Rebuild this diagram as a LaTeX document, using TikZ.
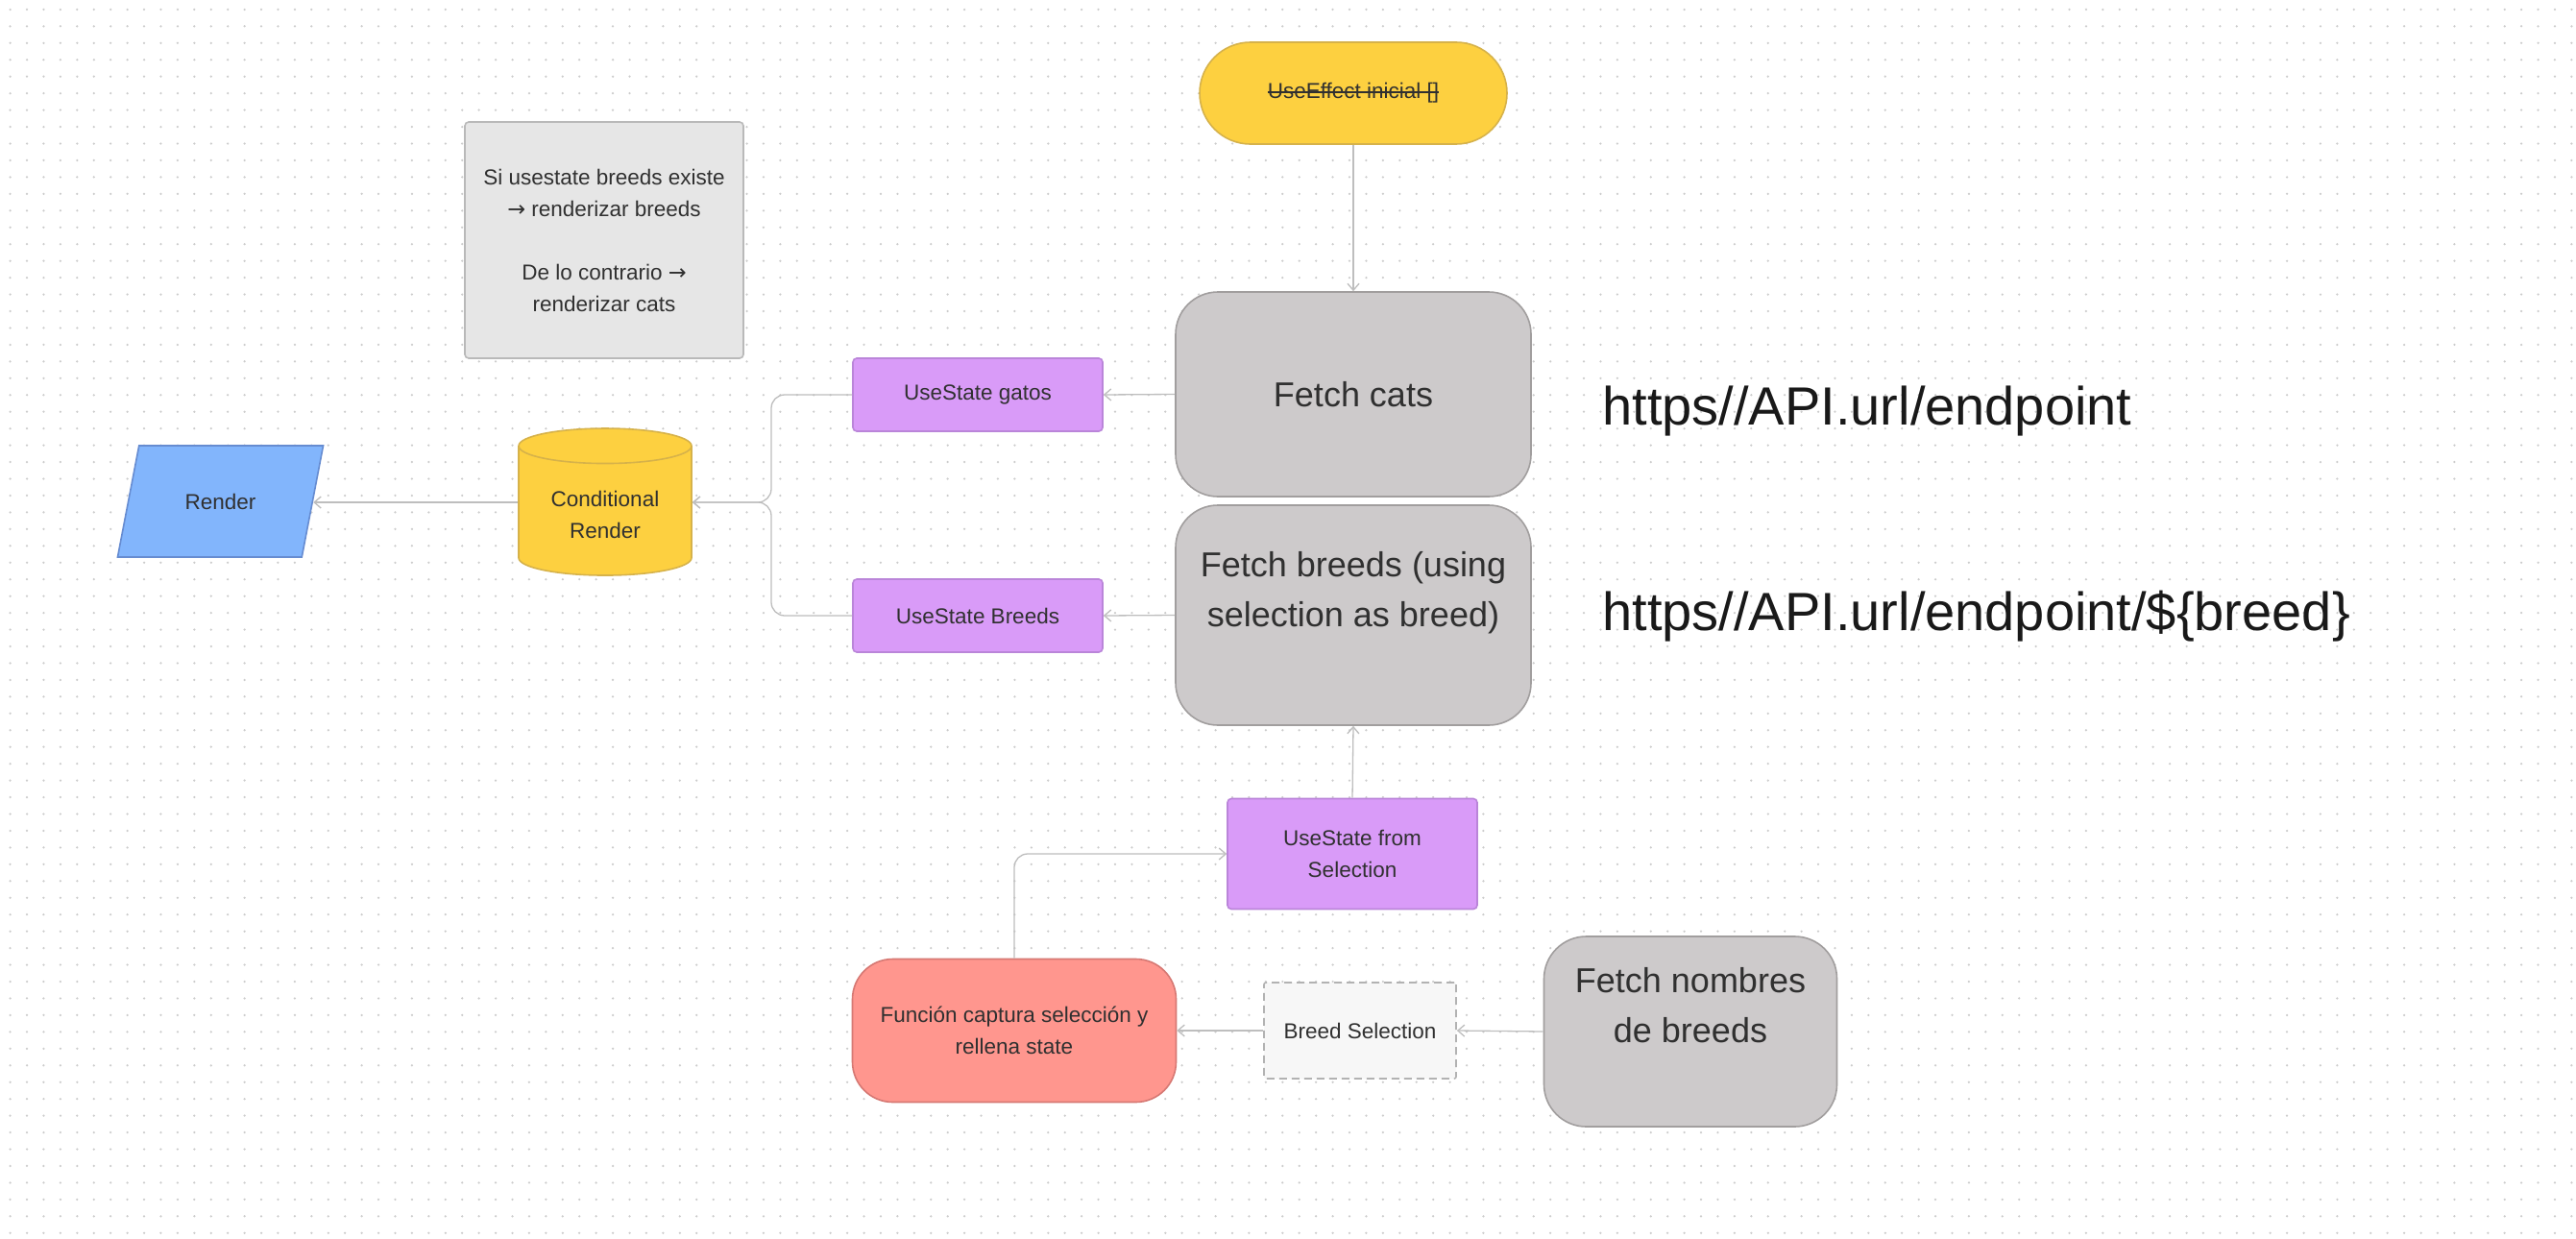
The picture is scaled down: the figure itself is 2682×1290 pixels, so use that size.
\documentclass[tikz,border=0pt]{standalone}
\usepackage{fontspec}
\setmainfont{Liberation Sans}
\newfontfamily\arrowfont{DejaVu Sans}
\usetikzlibrary{shapes.geometric,arrows.meta}
\definecolor{inkgray}{rgb}{0.19,0.19,0.19}
\definecolor{urlblack}{rgb}{0.1,0.1,0.1}
\definecolor{yellowbox}{rgb}{0.992,0.816,0.251}
\definecolor{yellowline}{rgb}{0.84,0.70,0.29}
\definecolor{purplebox}{rgb}{0.851,0.608,0.973}
\definecolor{purpleline}{rgb}{0.73,0.52,0.85}
\definecolor{graybox}{rgb}{0.804,0.792,0.796}
\definecolor{grayline}{rgb}{0.63,0.62,0.62}
\definecolor{bluebox}{rgb}{0.51,0.71,0.988}
\definecolor{blueline}{rgb}{0.4,0.55,0.82}
\definecolor{salmonbox}{rgb}{1,0.588,0.557}
\definecolor{salmonline}{rgb}{0.84,0.47,0.45}
\definecolor{notebox}{rgb}{0.902,0.902,0.902}
\definecolor{noteline}{rgb}{0.725,0.725,0.725}
\definecolor{selbox}{rgb}{0.969,0.969,0.969}
\definecolor{dashline}{rgb}{0.7,0.7,0.7}
\definecolor{linegray}{rgb}{0.745,0.745,0.745}
\definecolor{dotgray}{rgb}{0.8,0.8,0.8}
\newlength\strikelen
\newcommand{\strikethru}[1]{\settowidth{\strikelen}{#1}\rlap{\rule[0.27em]{\strikelen}{0.07em}}#1}
\newcommand{\thenarrow}{{\arrowfont →}}

\begin{document}
\begin{tikzpicture}[x=0.5pt,y=0.5pt,yscale=-1,
    every node/.style={text=inkgray,font=\fontsize{11.25}{16.5}\selectfont,align=center},
    statebox/.style={rectangle,draw=purpleline,fill=purplebox,line width=0.8pt,rounded corners=2pt,minimum width=130pt},
    fetchbox/.style={rectangle,draw=grayline,fill=graybox,line width=0.8pt,rounded corners=22pt,font=\fontsize{18}{26}\selectfont},
    urltext/.style={anchor=west,inner sep=0pt,text=urlblack,font=\fontsize{28}{32}\selectfont},
    flow/.style={draw=linegray,line width=0.65pt,-{Straight Barb[length=3.5pt,width=6pt]}},
    canvasdot/.style={draw=dotgray,line width=1.25pt,line cap=round,dash pattern=on 0pt off 8.715pt}]
			\useasboundingbox (0,0) rectangle (2682,1290);
			\fill[white] (0,0) rectangle (2682,1290);
			\foreach \row in {0,...,73}
				\draw[canvasdot] (10.6,{9.9+17.45*\row}) -- (2682,{9.9+17.45*\row});
			
			\node[rectangle,draw=yellowline,fill=yellowbox,line width=0.8pt,rounded corners=26.5pt,minimum width=160pt,minimum height=53pt] (useeffect) at (1409,97) {\strikethru{UseEffect inicial []}};
			\node[rectangle,draw=noteline,fill=notebox,line width=0.8pt,rounded corners=2pt,minimum width=145pt,minimum height=123pt] (note) at (629,250) {Si usestate breeds existe\\\thenarrow{} renderizar breeds\\[16.5pt]De lo contrario \thenarrow\\renderizar cats};
			\node[fetchbox,minimum width=185pt,minimum height=106.5pt] (fetchcats) at (1409,410.5) {Fetch cats};
			\node[fetchbox,minimum width=185pt,minimum height=114.5pt] (fetchbreeds) at (1409,640.5) {\raisebox{8pt}[0pt][0pt]{\begin{tabular}{@{}c@{}}Fetch breeds (using\\selection as breed)\end{tabular}}};
			\node[fetchbox,minimum width=152.5pt,minimum height=99pt] (fetchnames) at (1760,1074) {\raisebox{8pt}[0pt][0pt]{\begin{tabular}{@{}c@{}}Fetch nombres\\de breeds\end{tabular}}};
			\node[statebox,minimum height=38pt] (gatosstate) at (1018,411) {UseState gatos};
			\node[statebox,minimum height=38pt] (breedsstate) at (1018,641) {UseState Breeds};
			\node[statebox,minimum height=57.5pt] (selstate) at (1408,889) {UseState from\\Selection};
			\node[rectangle,draw=salmonline,fill=salmonbox,line width=0.8pt,rounded corners=21pt,minimum width=168.5pt,minimum height=74.5pt] (capture) at (1056,1073) {Función captura selección y\\rellena state};
			\node[rectangle,draw=dashline,fill=selbox,line width=0.8pt,dash pattern=on 4pt off 2.5pt,rounded corners=1pt,minimum width=100pt,minimum height=50pt] (breedsel) at (1416,1073) {Breed Selection};
			\node[cylinder,shape border rotate=90,aspect=0.29,draw=yellowline,fill=yellowbox,line width=0.8pt,minimum width=90pt,minimum height=76.5pt] (condrender) at (630,535.5) {Conditional\\Render};
			\node[trapezium,trapezium left angle=69,trapezium right angle=111,trapezium stretches=true,draw=blueline,fill=bluebox,line width=0.8pt,minimum width=107.5pt,minimum height=58pt] (render) at (229.5,522) {Render};
			\node[urltext] (urlcats) at (1668,428) {https//API.url/endpoint};
			\node[urltext] (urlbreeds) at (1668,642) {https//API.url/endpoint/\$\{breed\}};
			
			\coordinate (merge) at (803,523);
			\draw[flow] (useeffect.south) -- (fetchcats.north);
			\draw[flow] (fetchcats.west) -- (gatosstate.east);
			\draw[flow] (fetchbreeds.west) -- (breedsstate.east);
			\draw[flow,rounded corners=7pt] (gatosstate.west) -| (merge) -- (merge -| condrender.east);
			\draw[flow,rounded corners=7pt] (breedsstate.west) -| (merge) -- (merge -| condrender.east);
			\draw[flow] (condrender.west |- merge) -- (merge -| render.east);
			\draw[flow] (selstate.north) -- (fetchbreeds.south);
			\draw[flow,rounded corners=7pt] (capture.north) |- (selstate.west);
			\draw[flow] (breedsel.west) -- (capture.east);
			\draw[flow] (fetchnames.west) -- (breedsel.east);
\end{tikzpicture}
\end{document}
